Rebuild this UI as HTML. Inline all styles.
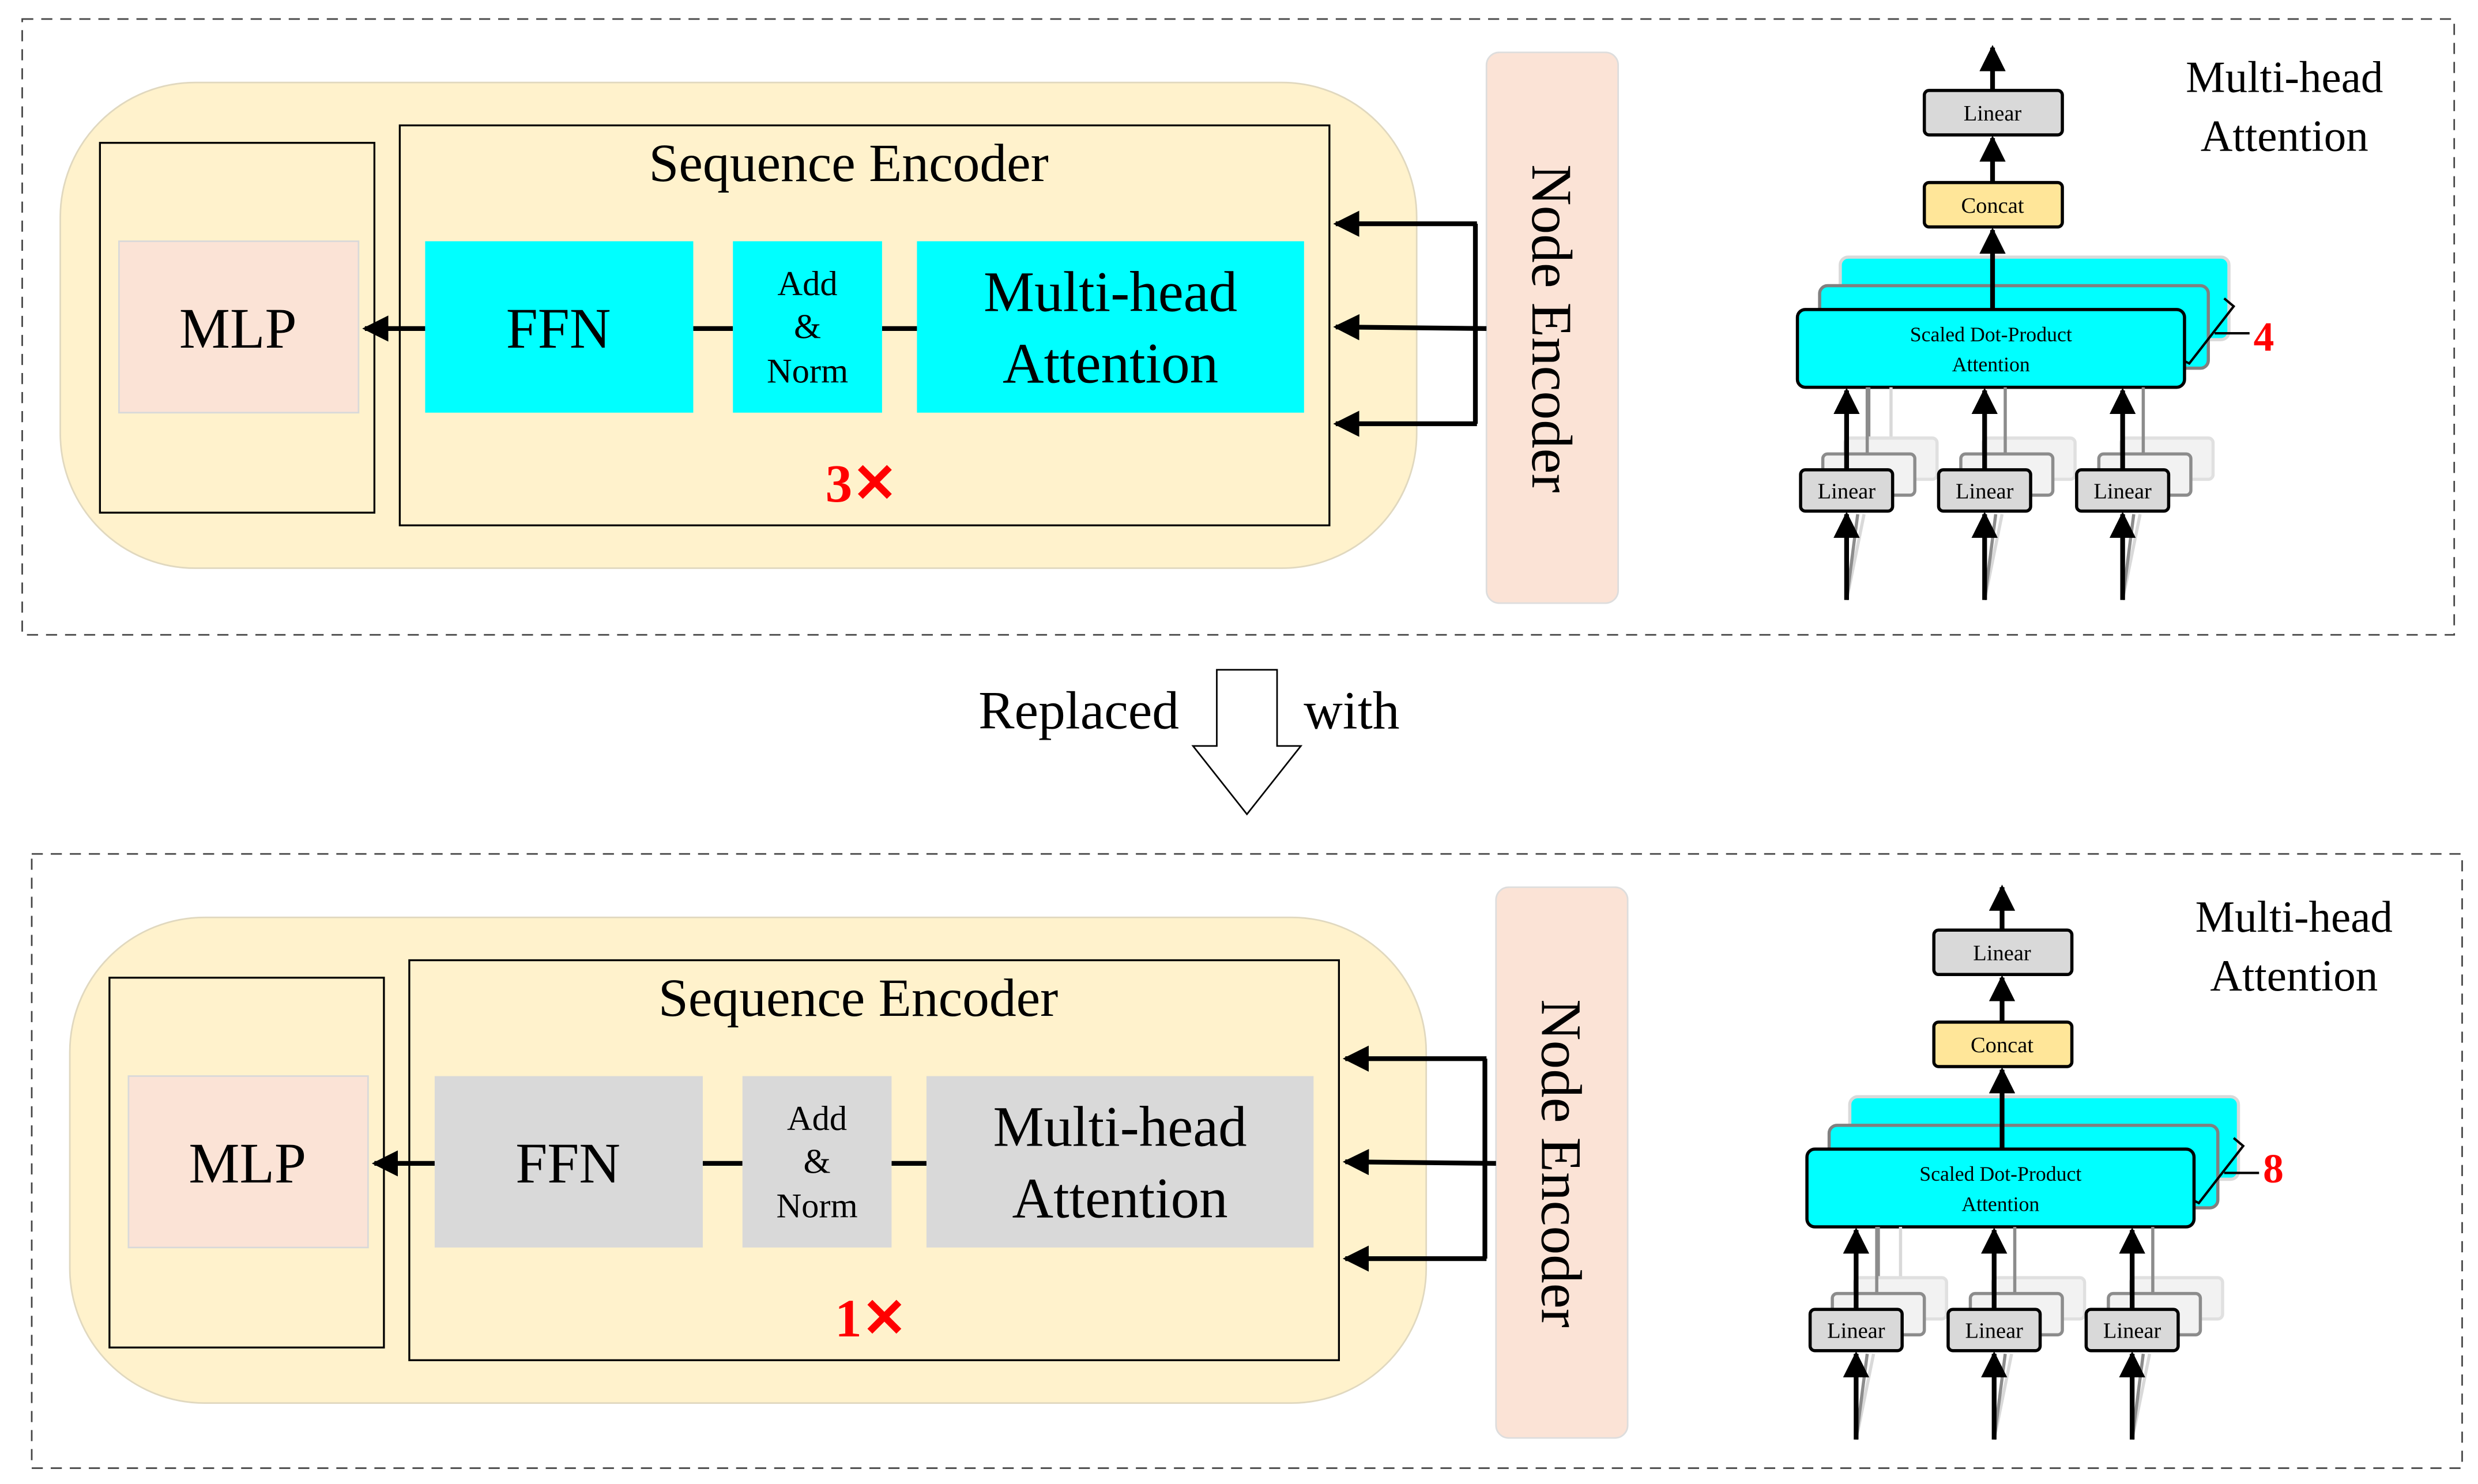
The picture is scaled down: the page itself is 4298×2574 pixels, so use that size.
<!DOCTYPE html>
<html><head><meta charset="utf-8"><style>
html,body{margin:0;padding:0;background:#fff;}
svg{display:block;}
text{font-family:"Liberation Serif",serif;}
</style></head><body>
<svg width="4298" height="2574" viewBox="0 0 1562 935" preserveAspectRatio="none" xmlns="http://www.w3.org/2000/svg">
<defs>
<marker id="ah" viewBox="0 0 10 10" refX="9" refY="5" markerWidth="5.5" markerHeight="5.5" orient="auto" markerUnits="strokeWidth"><path d="M0,0 L10,5 L0,10 z" fill="#000"/></marker>
<g id="lin">
 <rect x="28" y="-20" width="58" height="26" rx="3" fill="#f2f2f2" stroke="#e0e0e0" stroke-width="2"/>
 <rect x="14" y="-10" width="58" height="26" rx="3" fill="#f2f2f2" stroke="#8c8c8c" stroke-width="2"/>
 <line x1="42" y1="-52" x2="42" y2="-10" stroke="#8c8c8c" stroke-width="2"/>
 <rect x="0" y="0" width="58" height="26" rx="3" fill="#d9d9d9" stroke="#000" stroke-width="2"/>
 <text x="29" y="18" font-size="14" text-anchor="middle">Linear</text>
 <line x1="29" y1="82" x2="40" y2="28" stroke="#d9d9d9" stroke-width="2"/>
 <line x1="29" y1="82" x2="36" y2="28" stroke="#8c8c8c" stroke-width="2"/>
 <line x1="29" y1="82" x2="29" y2="28" stroke="#000" stroke-width="3" marker-end="url(#ah)"/>
 <line x1="29" y1="0" x2="29" y2="-50" stroke="#000" stroke-width="3" marker-end="url(#ah)"/>
</g>
<g id="mha">
 <rect x="1160" y="162" width="245" height="52" rx="5" fill="#00ffff" stroke="#d9d9d9" stroke-width="2"/>
 <rect x="1147" y="180" width="245" height="52" rx="5" fill="#00ffff" stroke="#808080" stroke-width="2"/>
 <polyline points="1402,188 1408,193 1380,229 1374,226" fill="none" stroke="#000" stroke-width="1.5"/>
 <line x1="1396" y1="210" x2="1418" y2="210" stroke="#000" stroke-width="1.5"/>
 <rect x="1133" y="195" width="244" height="49" rx="5" fill="#00ffff" stroke="#000" stroke-width="2"/>
 <text x="1255" y="215" font-size="13" text-anchor="middle">Scaled Dot-Product</text>
 <text x="1255" y="234" font-size="13" text-anchor="middle">Attention</text>
 <line x1="1256" y1="195" x2="1256" y2="145" stroke="#000" stroke-width="3" marker-end="url(#ah)"/>
 <rect x="1213" y="115" width="87" height="28" rx="3" fill="#ffe699" stroke="#000" stroke-width="2"/>
 <text x="1256" y="134" font-size="14" text-anchor="middle">Concat</text>
 <line x1="1256" y1="115" x2="1256" y2="87" stroke="#000" stroke-width="3" marker-end="url(#ah)"/>
 <rect x="1213" y="57" width="87" height="28" rx="3" fill="#d9d9d9" stroke="#000" stroke-width="2"/>
 <text x="1256" y="76" font-size="14" text-anchor="middle">Linear</text>
 <line x1="1256" y1="57" x2="1256" y2="30" stroke="#000" stroke-width="3" marker-end="url(#ah)"/>
 <line x1="1178" y1="244" x2="1178" y2="286" stroke="#8c8c8c" stroke-width="2"/>
 <line x1="1192" y1="244" x2="1192" y2="276" stroke="#d9d9d9" stroke-width="2"/>
 <use href="#lin" x="1135" y="296"/>
 <use href="#lin" x="1222" y="296"/>
 <use href="#lin" x="1309" y="296"/>
 <text x="1440" y="58" font-size="28" text-anchor="middle">Multi-head</text>
 <text x="1440" y="95" font-size="28" text-anchor="middle">Attention</text>
</g>
<g id="panel">
 <rect x="38" y="52" width="855" height="306" rx="85" fill="#fff2cc" stroke="#e0d8bf" stroke-width="1"/>
 <rect x="63" y="90" width="173" height="233" fill="none" stroke="#000" stroke-width="1.2"/>
 <rect x="75" y="152" width="151" height="108" fill="#fbe3d6" stroke="#d9d9d9" stroke-width="1"/>
 <text x="150" y="219" font-size="36" text-anchor="middle">MLP</text>
 <rect x="252" y="79" width="586" height="252" fill="none" stroke="#000" stroke-width="1.2"/>
 <text x="535" y="114" font-size="34" text-anchor="middle">Sequence Encoder</text>
 <line x1="437" y1="207" x2="462" y2="207" stroke="#000" stroke-width="3"/>
 <line x1="556" y1="207" x2="578" y2="207" stroke="#000" stroke-width="3"/>
 <line x1="268" y1="207" x2="230" y2="207" stroke="#000" stroke-width="3" marker-end="url(#ah)"/>
 <rect x="937" y="33" width="83" height="347" rx="8" fill="#fbe3d6" stroke="#ddd" stroke-width="1"/>
 <text transform="translate(966,207) rotate(90)" font-size="36" text-anchor="middle">Node Encoder</text>
 <polyline points="930,141 930,267" fill="none" stroke="#000" stroke-width="3"/>
 <line x1="931" y1="141" x2="842" y2="141" stroke="#000" stroke-width="3" marker-end="url(#ah)"/>
 <line x1="937" y1="207" x2="842" y2="206" stroke="#000" stroke-width="3" marker-end="url(#ah)"/>
 <line x1="931" y1="267" x2="842" y2="267" stroke="#000" stroke-width="3" marker-end="url(#ah)"/>
</g>
</defs>

<rect x="14" y="12" width="1533" height="388" fill="none" stroke="#444" stroke-width="1" stroke-dasharray="7,5"/>
<use href="#panel"/>
<rect x="268" y="152" width="169" height="108" fill="#00ffff"/>
<text x="352" y="219" font-size="36" text-anchor="middle">FFN</text>
<rect x="462" y="152" width="94" height="108" fill="#00ffff"/>
<text x="509" y="186" font-size="22" text-anchor="middle">Add</text>
<text x="509" y="213" font-size="22" text-anchor="middle">&amp;</text>
<text x="509" y="241" font-size="22" text-anchor="middle">Norm</text>
<rect x="578" y="152" width="244" height="108" fill="#00ffff"/>
<text x="700" y="196" font-size="36" text-anchor="middle">Multi-head</text>
<text x="700" y="241" font-size="36" text-anchor="middle">Attention</text>
<text x="543" y="316" font-size="34" font-weight="bold" fill="#ff0000" text-anchor="middle">3✕</text>
<use href="#mha"/>
<text x="1427" y="221" font-size="26" font-weight="bold" fill="#ff0000" text-anchor="middle">4</text>

<text x="680" y="459" font-size="34" text-anchor="middle">Replaced</text>
<text x="852" y="459" font-size="34" text-anchor="middle">with</text>
<path d="M767,422 L805,422 L805,470 L820,470 L786,513 L752,470 L767,470 Z" fill="#fff" stroke="#000" stroke-width="1"/>

<rect x="20" y="538" width="1532" height="387" fill="none" stroke="#444" stroke-width="1" stroke-dasharray="7,5"/>
<g transform="translate(6,526)">
<use href="#panel"/>
<rect x="268" y="152" width="169" height="108" fill="#d9d9d9"/>
<text x="352" y="219" font-size="36" text-anchor="middle">FFN</text>
<rect x="462" y="152" width="94" height="108" fill="#d9d9d9"/>
<text x="509" y="186" font-size="22" text-anchor="middle">Add</text>
<text x="509" y="213" font-size="22" text-anchor="middle">&amp;</text>
<text x="509" y="241" font-size="22" text-anchor="middle">Norm</text>
<rect x="578" y="152" width="244" height="108" fill="#d9d9d9"/>
<text x="700" y="196" font-size="36" text-anchor="middle">Multi-head</text>
<text x="700" y="241" font-size="36" text-anchor="middle">Attention</text>
<text x="543" y="316" font-size="34" font-weight="bold" fill="#ff0000" text-anchor="middle">1✕</text>
</g>
<g transform="translate(6,529)">
<use href="#mha"/>
<text x="1427" y="216" font-size="26" font-weight="bold" fill="#ff0000" text-anchor="middle">8</text>
</g>
</svg>
</body></html>
